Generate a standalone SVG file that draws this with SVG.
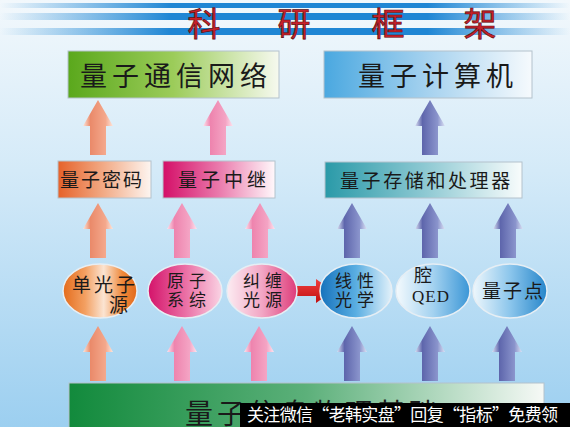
<svg xmlns="http://www.w3.org/2000/svg" xmlns:xlink="http://www.w3.org/1999/xlink" width="570" height="427" viewBox="0 0 570 427">
<defs>
<style>
.cjk{font-family:"Noto Sans CJK SC","Noto Sans CJK TC",sans-serif;fill:#1a1a1a}
.t1{font-size:27px;letter-spacing:5px}
.t2{font-size:19px;letter-spacing:3px}
.t3{font-size:17px;letter-spacing:5px}
.box{stroke:#b4c2cc;stroke-width:1}
.ell{stroke:#e6eef4;stroke-width:1.5}
</style>
<linearGradient id="bg" x1="0" y1="0" x2="0" y2="1">
<stop offset="0" stop-color="#f2f8fc"/><stop offset="0.4" stop-color="#d4eaf8"/><stop offset="1" stop-color="#9ccff0"/>
</linearGradient>
<linearGradient id="stripe" x1="0" y1="0" x2="1" y2="0">
<stop offset="0" stop-color="#2a8fd8" stop-opacity="0"/><stop offset="0.3" stop-color="#1f86d4"/><stop offset="0.75" stop-color="#1f86d4"/><stop offset="1" stop-color="#2a8fd8" stop-opacity="0"/>
</linearGradient>
<linearGradient id="gGreen" x1="0" y1="0" x2="1" y2="0"><stop offset="0" stop-color="#5aa81c"/><stop offset="0.5" stop-color="#9ccc5a"/><stop offset="1" stop-color="#f6f9ef"/></linearGradient>
<linearGradient id="gBlue" x1="0" y1="0" x2="1" y2="0"><stop offset="0" stop-color="#4aa8e0"/><stop offset="0.5" stop-color="#a6d2ef"/><stop offset="1" stop-color="#f6fafd"/></linearGradient>
<linearGradient id="gOrange" x1="0" y1="0" x2="1" y2="0"><stop offset="0" stop-color="#e6622a"/><stop offset="0.5" stop-color="#f2ac88"/><stop offset="1" stop-color="#fdf5f0"/></linearGradient>
<linearGradient id="gMag" x1="0" y1="0" x2="1" y2="0"><stop offset="0" stop-color="#d40f68"/><stop offset="0.5" stop-color="#ea7aac"/><stop offset="1" stop-color="#fff8fb"/></linearGradient>
<linearGradient id="gTeal" x1="0" y1="0" x2="1" y2="0"><stop offset="0" stop-color="#2a9aa8"/><stop offset="0.5" stop-color="#8cc8d2"/><stop offset="1" stop-color="#f8fcfc"/></linearGradient>
<linearGradient id="gBase" x1="0" y1="0" x2="1" y2="0"><stop offset="0" stop-color="#128a3c"/><stop offset="0.5" stop-color="#5cb07a"/><stop offset="1" stop-color="#f6f9f6"/></linearGradient>
<linearGradient id="eOr" x1="0" y1="0" x2="1" y2="0"><stop offset="0" stop-color="#e46c1c"/><stop offset="0.3" stop-color="#f3a062"/><stop offset="0.55" stop-color="#fbe4d2"/><stop offset="0.8" stop-color="#ef8a3c"/><stop offset="1" stop-color="#e26a1c"/></linearGradient>
<linearGradient id="ePk1" x1="0" y1="0" x2="1" y2="0"><stop offset="0" stop-color="#d4136a"/><stop offset="0.5" stop-color="#ea6ea4"/><stop offset="1" stop-color="#fad4e4"/></linearGradient>
<linearGradient id="ePk2" x1="0" y1="0" x2="1" y2="0"><stop offset="0" stop-color="#fcecf2"/><stop offset="0.5" stop-color="#f2a6c4"/><stop offset="1" stop-color="#de3c7a"/></linearGradient>
<linearGradient id="eBl1" x1="0" y1="0" x2="1" y2="0"><stop offset="0" stop-color="#1672bc"/><stop offset="0.5" stop-color="#5aaee2"/><stop offset="1" stop-color="#e2f1fa"/></linearGradient>
<linearGradient id="eBl2" x1="0" y1="0" x2="1" y2="0"><stop offset="0" stop-color="#f4fafd"/><stop offset="0.5" stop-color="#a4d2f0"/><stop offset="1" stop-color="#3a96d6"/></linearGradient>
<linearGradient id="eBl3" x1="0" y1="0" x2="1" y2="0"><stop offset="0" stop-color="#eef7fc"/><stop offset="0.5" stop-color="#8cc6ec"/><stop offset="1" stop-color="#2686ca"/></linearGradient>
<linearGradient id="aOr" x1="0" y1="0" x2="1" y2="0"><stop offset="0" stop-color="#fde6dc"/><stop offset="0.25" stop-color="#ea8a6a"/><stop offset="0.75" stop-color="#f4a88c"/><stop offset="1" stop-color="#fde6dc"/></linearGradient>
<linearGradient id="aPk" x1="0" y1="0" x2="1" y2="0"><stop offset="0" stop-color="#fde4ee"/><stop offset="0.25" stop-color="#ee84ae"/><stop offset="0.75" stop-color="#f4a4c4"/><stop offset="1" stop-color="#fde4ee"/></linearGradient>
<linearGradient id="aBl" x1="0" y1="0" x2="1" y2="0"><stop offset="0" stop-color="#dce2f4"/><stop offset="0.25" stop-color="#5e66ac"/><stop offset="0.75" stop-color="#8a94cc"/><stop offset="1" stop-color="#dce2f4"/></linearGradient>
<linearGradient id="aRed" x1="0" y1="0" x2="0" y2="1"><stop offset="0" stop-color="#f04040"/><stop offset="1" stop-color="#c01010"/></linearGradient>
<path id="arr" d="M0,0 L15,26 L8,26 L8,55 L-8,55 L-8,26 L-15,26 Z"/>
</defs>

<rect x="0" y="0" width="570" height="427" fill="url(#bg)"/>

<g id="title">
<rect x="0" y="3" width="570" height="5" fill="url(#stripe)"/>
<rect x="0" y="13" width="570" height="7" fill="url(#stripe)"/>
<rect x="0" y="28" width="570" height="7" fill="url(#stripe)"/>
<text y="36" font-family="Noto Sans CJK SC, sans-serif" font-size="33" fill="#c8202a" stroke="#5a1010" stroke-width="0.7" text-anchor="middle"><tspan x="204">科</tspan><tspan x="294">研</tspan><tspan x="388">框</tspan><tspan x="480">架</tspan></text>
</g>

<g id="connectors">
<use href="#arr" x="98" y="100" fill="url(#aOr)"/>
<use href="#arr" x="218" y="100" fill="url(#aPk)"/>
<use href="#arr" x="430" y="100" fill="url(#aBl)"/>
<use href="#arr" x="98" y="203" fill="url(#aOr)"/>
<use href="#arr" x="182" y="203" fill="url(#aPk)"/>
<use href="#arr" x="260" y="203" fill="url(#aPk)"/>
<use href="#arr" x="352" y="203" fill="url(#aBl)"/>
<use href="#arr" x="430" y="203" fill="url(#aBl)"/>
<use href="#arr" x="508" y="203" fill="url(#aBl)"/>
<use href="#arr" x="98" y="326" fill="url(#aOr)"/>
<use href="#arr" x="182" y="326" fill="url(#aPk)"/>
<use href="#arr" x="259" y="326" fill="url(#aPk)"/>
<use href="#arr" x="352" y="326" fill="url(#aBl)"/>
<use href="#arr" x="430" y="326" fill="url(#aBl)"/>
<use href="#arr" x="507" y="326" fill="url(#aBl)"/>
<path d="M296,286 L316,286 L316,279 L333,291 L316,303 L316,296 L296,296 Z" fill="url(#aRed)"/>
</g>

<g id="n-comm">
<rect class="box" x="68" y="51" width="211" height="47" fill="url(#gGreen)"/>
<text class="cjk t1" x="80" y="86">量子通信网络</text>
</g>
<g id="n-computer">
<rect class="box" x="324" y="51" width="208" height="47" fill="url(#gBlue)"/>
<text class="cjk t1" x="358" y="86">量子计算机</text>
</g>

<g id="n-crypto">
<rect class="box" x="58" y="161" width="93" height="37" fill="url(#gOrange)"/>
<text class="cjk t2" x="60" y="187" style="letter-spacing:2px">量子密码</text>
</g>
<g id="n-relay">
<rect class="box" x="163" y="161" width="112" height="37" fill="url(#gMag)"/>
<text class="cjk t2" x="178" y="187" style="letter-spacing:4px">量子中继</text>
</g>
<g id="n-storage">
<rect class="box" x="325" y="162" width="197" height="36" fill="url(#gTeal)"/>
<text class="cjk t2" x="340" y="188" style="letter-spacing:2.6px">量子存储和处理器</text>
</g>

<g id="n-single">
<ellipse class="ell" cx="100" cy="291" rx="37" ry="27" fill="url(#eOr)"/>
<text class="cjk t2" x="72" y="292">单光子</text>
<text class="cjk t2" x="109" y="312">源</text>
</g>
<g id="n-atom">
<ellipse class="ell" cx="185" cy="291" rx="37" ry="27" fill="url(#ePk1)"/>
<text class="cjk t3" x="167" y="287">原子</text>
<text class="cjk t3" x="167" y="306">系综</text>
</g>
<g id="n-entangle">
<ellipse class="ell" cx="262" cy="291" rx="35" ry="27" fill="url(#ePk2)"/>
<text class="cjk t3" x="243" y="287">纠缠</text>
<text class="cjk t3" x="243" y="306">光源</text>
</g>
<g id="n-linear">
<ellipse class="ell" cx="356" cy="291" rx="36" ry="27" fill="url(#eBl1)"/>
<text class="cjk t3" x="335" y="287">线性</text>
<text class="cjk t3" x="335" y="306">光学</text>
</g>
<g id="n-cavity">
<ellipse class="ell" cx="433" cy="291" rx="37" ry="27" fill="url(#eBl2)"/>
<text class="cjk" x="423" y="282" font-size="18" text-anchor="middle">腔</text>
<text x="431" y="302" font-family="Liberation Serif, serif" font-size="17" fill="#1a1a1a" text-anchor="middle" letter-spacing="1">QED</text>
</g>
<g id="n-dot">
<ellipse class="ell" cx="510" cy="291" rx="37" ry="27" fill="url(#eBl3)"/>
<text class="cjk t2" x="482" y="298" style="letter-spacing:2px">量子点</text>
</g>

<g id="n-base">
<rect class="box" x="69" y="383" width="475" height="50" fill="url(#gBase)"/>
<text class="cjk" x="185" y="424" font-size="28" letter-spacing="4">量子信息物理基础</text>
</g>

<g id="watermark">
<rect x="240" y="403" width="330" height="24" fill="#000"/>
<text x="247" y="421" font-family="Noto Sans CJK SC, sans-serif" font-size="17" fill="#fff" textLength="311">关注微信“老韩实盘”回复“指标”免费领</text>
</g>
</svg>
